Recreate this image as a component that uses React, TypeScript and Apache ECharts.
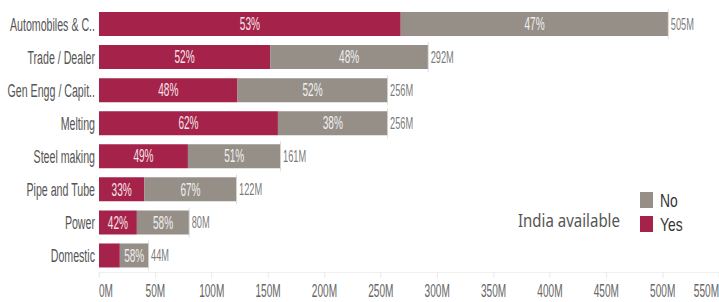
import React, { useEffect, useRef } from 'react';
import * as echarts from 'echarts';

const categories = [
  'Automobiles & C..',
  'Trade / Dealer',
  'Gen Engg / Capit..',
  'Melting',
  'Steel making',
  'Pipe and Tube',
  'Power',
  'Domestic',
];
const totals = [505, 292, 256, 256, 161, 122, 80, 44];
const yesPct = [53, 52, 48, 62, 49, 33, 42, 42];
const noPct = [47, 48, 52, 38, 51, 67, 58, 58];
const legendTitle = 'India available';
const legendItems = ['No', 'Yes'];

const RED = '#A5234A';
const GRAY = '#968F88';
const FONT = "'Liberation Sans', Arial, sans-serif";
// The reference uses a tall, condensed typeface; the chart is drawn wider and squeezed horizontally.
const SX = 0.56;
const W = 719 / SX;
const H = 302;
const px = (x: number) => x / SX;
const LEGEND_SX = 0.77 / SX;

export default function App() {
  const ref = useRef<HTMLDivElement>(null);
  useEffect(() => {
    document.body.style.margin = '0';
    document.body.style.overflow = 'hidden';
    if (!ref.current) return;
    const chart = echarts.init(ref.current, undefined, { renderer: 'svg' });
    const yesVals = totals.map((t, i) => (t * yesPct[i]) / 100);
    const noVals = totals.map((t, i) => t - yesVals[i]);
    const segLabel = (pct: number, val: number) => ({
      value: val,
      label: { show: val >= 20, formatter: pct + '%' },
    });
    const legendColors: Record<string, string> = { No: GRAY, Yes: RED };
    const legendGraphics: any[] = [];
    legendItems.forEach((name, i) => {
      const top = 192 + i * 24;
      legendGraphics.push({
        type: 'rect',
        x: px(640),
        y: top,
        shape: { x: 0, y: 0, width: px(13), height: 16 },
        style: { fill: legendColors[name] },
      });
      legendGraphics.push({
        type: 'text',
        x: px(660),
        y: top + 8.5,
        scaleX: LEGEND_SX,
        style: {
          text: name,
          x: 0,
          y: 0,
          fontSize: 18,
          fontFamily: FONT,
          fill: '#333',
          verticalAlign: 'middle',
        },
      });
    });
    legendGraphics.push({
      type: 'text',
      x: px(518),
      y: 219.5,
      scaleX: 0.79 / SX,
      style: {
        text: legendTitle,
        x: 0,
        y: 0,
        fontSize: 19,
        fontFamily: "'Noto Sans', sans-serif",
        fill: '#555',
        verticalAlign: 'middle',
      },
    });

    chart.setOption({
      animation: false,
      textStyle: { fontFamily: FONT },
      grid: {
        left: px(99),
        right: 0,
        top: 7.5,
        bottom: 30,
        containLabel: false,
        outerBoundsMode: 'none',
      },
      xAxis: {
        type: 'value',
        min: 0,
        max: 550,
        interval: 50,
        axisLine: { show: true, lineStyle: { color: '#ececec' } },
        axisTick: { show: true, length: 6, lineStyle: { color: '#e4e4e4', width: 1.5 } },
        splitLine: { show: false },
        axisLabel: {
          formatter: (v: number) => v + 'M',
          color: '#666',
          fontSize: 18,
          fontFamily: FONT,
          margin: 10,
          alignMinLabel: 'left',
          alignMaxLabel: 'right',
          showMaxLabel: true,
        },
      },
      yAxis: {
        type: 'category',
        data: categories,
        inverse: true,
        axisLine: { show: false },
        axisTick: { show: false },
        axisLabel: { color: '#555', fontSize: 19, fontFamily: FONT, margin: px(4) },
      },
      graphic: legendGraphics,
      series: [
        {
          name: 'Yes',
          type: 'bar',
          stack: 'a',
          barWidth: 24,
          itemStyle: { color: RED },
          label: {
            show: true,
            position: 'inside',
            color: '#f3e4e9',
            fontSize: 18,
            fontFamily: FONT,
          },
          data: yesVals.map((v, i) => segLabel(yesPct[i], v)),
        },
        {
          name: 'No',
          type: 'bar',
          stack: 'a',
          barWidth: 24,
          itemStyle: { color: GRAY },
          label: {
            show: true,
            position: 'inside',
            color: '#eeeeee',
            fontSize: 18,
            fontFamily: FONT,
          },
          data: noVals.map((v, i) => segLabel(noPct[i], v)),
        },
        {
          name: 'Total',
          type: 'scatter',
          symbol: 'rect',
          symbolSize: [px(1), 30],
          itemStyle: { color: '#d6d6d6' },
          z: 3,
          label: {
            show: true,
            position: 'right',
            distance: px(2),
            color: '#555',
            fontSize: 16.5,
            fontFamily: FONT,
            formatter: (p: any) => totals[p.dataIndex] + 'M',
          },
          data: totals.map((t, i) => [t, i]),
        },
      ],
    });
    return () => chart.dispose();
  }, []);
  return (
    <div style={{ width: 719, height: H, overflow: 'hidden', position: 'relative' }}>
      <div
        ref={ref}
        style={{
          width: W,
          height: H,
          transform: `scale(${SX}, 1)`,
          transformOrigin: '0 0',
        }}
      />
    </div>
  );
}
